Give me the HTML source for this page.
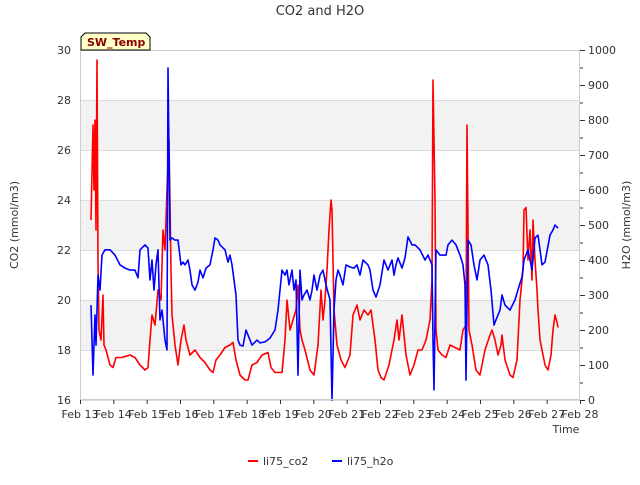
<!DOCTYPE html>
<html><head><meta charset="utf-8"><style>
body{margin:0;background:#fff;font-family:"Liberation Sans",sans-serif}
svg text{font-family:"DejaVu Sans","Liberation Sans",sans-serif}
</style></head><body>
<svg id="c" width="640" height="480" xmlns="http://www.w3.org/2000/svg">
<text x="320" y="15" text-anchor="middle" font-size="13" fill="#333">CO2 and H2O</text>
<g id="bg"></g><g id="grid"></g><g id="axes"></g><g id="series"></g>
<rect x="80.5" y="50.5" width="499" height="349" fill="none" stroke="#ccc"/>
<g>
<path d="M81,50 L81,37 L85,33 L146,33 L150,37 L150,50 Z" fill="#ffffc8" stroke="#000" stroke-width="1"/>
<text x="87" y="46" font-size="11" font-weight="bold" fill="#8b0000">SW_Temp</text></g>
<text x="566" y="433" text-anchor="middle" font-size="11" fill="#333">Time</text>
<text transform="translate(18,225) rotate(-90)" text-anchor="middle" font-size="11" fill="#333">CO2 (mmol/m3)</text>
<text transform="translate(630,225) rotate(-90)" text-anchor="middle" font-size="11" fill="#333">H2O (mmol/m3)</text>
<g><line x1="248" y1="461" x2="258" y2="461" stroke="#f00" stroke-width="2"/><text x="263" y="465" font-size="11" fill="#333">li75_co2</text></g>
<g><line x1="332" y1="461" x2="342" y2="461" stroke="#00f" stroke-width="2"/><text x="347" y="465" font-size="11" fill="#333">li75_h2o</text></g>
</svg>
<script>
const xLabels=["Feb 13","Feb 14","Feb 15","Feb 16","Feb 17","Feb 18","Feb 19","Feb 20","Feb 21","Feb 22","Feb 23","Feb 24","Feb 25","Feb 26","Feb 27","Feb 28"];
const leftTicks=[16,18,20,22,24,26,28,30];
const rightTicks=[0,100,200,300,400,500,600,700,800,900,1000];
const co2T=[0.33,0.39,0.42,0.45,0.48,0.51,0.54,0.57,0.63,0.69,0.72,0.78,0.9,0.99,1.08,1.26,1.5,1.65,1.8,1.95,2.04,2.1,2.16,2.25,2.34,2.43,2.49,2.55,2.61,2.67,2.73,2.76,2.85,2.94,3.03,3.12,3.18,3.3,3.45,3.6,3.75,3.9,3.99,4.08,4.2,4.35,4.5,4.59,4.68,4.8,4.95,5.04,5.16,5.31,5.46,5.64,5.73,5.85,6.06,6.15,6.21,6.3,6.39,6.48,6.54,6.6,6.66,6.75,6.9,7.02,7.14,7.23,7.29,7.35,7.41,7.47,7.53,7.56,7.62,7.71,7.83,7.95,8.1,8.19,8.31,8.4,8.52,8.64,8.73,8.85,8.94,9.03,9.12,9.27,9.36,9.42,9.51,9.57,9.66,9.78,9.9,10.02,10.14,10.26,10.38,10.44,10.5,10.56,10.59,10.65,10.68,10.74,10.86,10.98,11.1,11.25,11.4,11.49,11.58,11.61,11.67,11.76,11.88,12.0,12.15,12.3,12.36,12.45,12.54,12.63,12.66,12.75,12.9,12.99,13.11,13.2,13.29,13.32,13.38,13.44,13.5,13.56,13.59,13.65,13.71,13.74,13.8,13.95,14.04,14.13,14.19,14.25,14.31,14.34];
const co2V=[23.2,27.0,24.4,27.2,22.8,29.6,21.6,18.8,18.4,20.2,18.2,18.0,17.4,17.3,17.7,17.7,17.8,17.7,17.4,17.2,17.3,18.4,19.4,19.0,20.4,20.0,22.8,22.0,24.4,26.4,21.2,19.4,18.2,17.4,18.4,19.0,18.4,17.8,18.0,17.7,17.5,17.2,17.1,17.6,17.8,18.1,18.2,18.3,17.6,17.0,16.8,16.8,17.4,17.5,17.8,17.9,17.3,17.1,17.1,18.4,20.0,18.8,19.2,19.6,20.6,18.8,18.4,18.0,17.2,17.0,18.2,20.4,19.2,20.0,21.2,22.8,24.0,23.6,19.6,18.2,17.6,17.3,17.8,19.4,19.8,19.2,19.6,19.4,19.6,18.4,17.2,16.9,16.8,17.4,18.0,18.4,19.2,18.4,19.4,17.8,17.0,17.4,18.0,18.0,18.4,18.8,19.2,20.8,28.8,24.0,18.8,18.0,17.8,17.7,18.2,18.1,18.0,18.8,19.0,27.0,18.8,18.2,17.2,17.0,18.0,18.6,18.8,18.4,17.8,18.2,18.6,17.6,17.0,16.9,17.6,20.0,21.2,23.6,23.7,21.6,22.8,20.8,23.2,21.6,20.4,19.6,18.4,17.4,17.2,17.8,18.8,19.4,19.1,18.9];
const h2oT=[0.33,0.39,0.45,0.48,0.54,0.6,0.66,0.75,0.9,1.05,1.2,1.35,1.5,1.65,1.74,1.8,1.95,2.04,2.1,2.16,2.22,2.28,2.34,2.4,2.46,2.55,2.61,2.64,2.7,2.76,2.85,2.94,3.03,3.09,3.15,3.24,3.3,3.36,3.45,3.54,3.6,3.69,3.78,3.9,3.99,4.05,4.14,4.2,4.35,4.44,4.5,4.56,4.68,4.74,4.8,4.89,4.98,5.1,5.16,5.31,5.4,5.55,5.7,5.85,5.94,6.06,6.15,6.21,6.27,6.36,6.42,6.48,6.54,6.6,6.66,6.72,6.81,6.9,6.96,7.02,7.11,7.2,7.29,7.38,7.5,7.56,7.62,7.68,7.74,7.8,7.89,7.98,8.1,8.22,8.31,8.4,8.49,8.64,8.7,8.79,8.88,9.0,9.12,9.24,9.36,9.42,9.48,9.54,9.66,9.75,9.84,9.96,10.05,10.2,10.35,10.44,10.56,10.59,10.62,10.68,10.8,10.98,11.04,11.16,11.28,11.4,11.49,11.55,11.58,11.64,11.73,11.82,11.91,12.0,12.12,12.24,12.33,12.42,12.48,12.6,12.66,12.75,12.9,13.05,13.2,13.26,13.32,13.44,13.56,13.65,13.74,13.8,13.86,13.95,14.1,14.19,14.25,14.34];
const h2oV=[271,71,243,157,357,314,414,429,429,414,386,377,371,371,349,429,443,434,343,400,314,386,429,229,257,171,143,949,457,463,457,457,386,394,386,400,371,329,314,337,371,349,377,386,429,463,457,443,429,394,414,386,300,171,157,154,200,171,157,171,163,166,177,200,257,371,357,371,329,371,314,343,71,371,286,300,314,286,314,357,314,357,371,329,286,0,257,343,371,357,329,386,380,377,386,357,400,386,371,314,294,329,400,371,400,357,386,406,377,406,466,443,443,429,400,414,386,171,29,429,414,414,443,457,443,414,386,329,57,457,443,386,343,400,414,386,314,214,229,257,300,271,257,286,334,351,400,429,371,463,471,429,386,394,471,486,500,491];
const NS="http://www.w3.org/2000/svg";
const L=80,R=580,T=50,B=400;
const xS=d=>L+d*(R-L)/15;
const yL=v=>B-(v-16)*(B-T)/14;
const yR=v=>B-v*(B-T)/1000;
function mk(tag,at,parent){const e=document.createElementNS(NS,tag);for(const k in at)e.setAttribute(k,at[k]);document.getElementById(parent).appendChild(e);return e;}
// bands
[[18,20],[22,24],[26,28]].forEach(b=>{const r=mk('rect',{x:L,y:yL(b[1]),width:R-L,height:yL(b[0])-yL(b[1]),fill:'#f2f2f2'},'bg');

});
leftTicks.forEach(v=>{const g=mk('line',{x1:L,x2:R,y1:yL(v)+0.5,y2:yL(v)+0.5,stroke:'#dcdcdc'},'grid');


const t=mk('text',{x:L-9,y:yL(v)+4,'text-anchor':'end','font-size':'11',fill:'#333'},'axes');t.textContent=v;

});
rightTicks.forEach(v=>{mk('line',{x1:R,x2:R+5,y1:yR(v)+0.5,y2:yR(v)+0.5,stroke:'#333'},'axes');
const t=mk('text',{x:R+8,y:yR(v)+4,'font-size':'11',fill:'#333'},'axes');t.textContent=v;


if(v<1000)mk('line',{x1:R,x2:R+3,y1:yR(v+50)+0.5,y2:yR(v+50)+0.5,stroke:'#333'},'axes');});
xLabels.forEach((s,i)=>{mk('line',{x1:xS(i)+0.5,x2:xS(i)+0.5,y1:B,y2:B+4,stroke:'#333'},'axes');
const t=mk('text',{x:xS(i),y:B+18,'text-anchor':'middle','font-size':'11',fill:'#333'},'axes');t.textContent=s;

});
const p1=mk('polyline',{points:co2T.map((d,i)=>xS(d).toFixed(1)+','+yL(co2V[i]).toFixed(1)).join(' '),fill:'none',stroke:'#f00','stroke-width':1.6,'stroke-linejoin':'round'},'series');


const p2=mk('polyline',{points:h2oT.map((d,i)=>xS(d).toFixed(1)+','+yR(h2oV[i]).toFixed(1)).join(' '),fill:'none',stroke:'#00f','stroke-width':1.6,'stroke-linejoin':'round'},'series');


</script>
</body></html>
